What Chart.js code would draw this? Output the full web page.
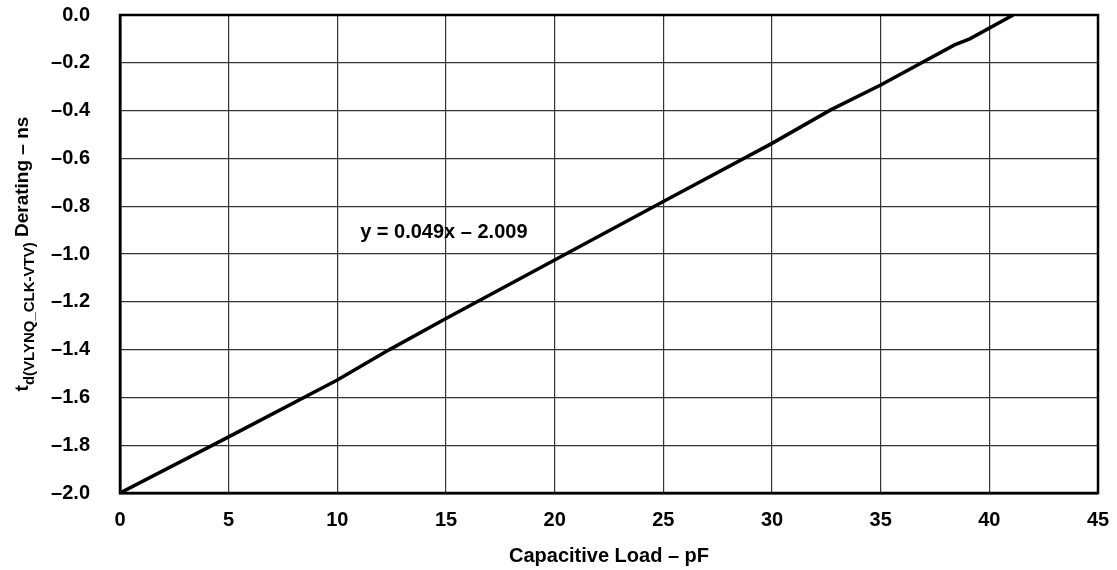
<!DOCTYPE html>
<html>
<head>
<meta charset="utf-8">
<script src="https://cdn.jsdelivr.net/npm/chart.js@4/dist/chart.umd.min.js"></script>
<style>
html,body{margin:0;padding:0;background:#fff;}
#wrap{width:1117px;height:570px;position:relative;}
</style>
</head>
<body>
<div id="wrap"><canvas id="c" width="1117" height="570"></canvas></div>
<script>
const loadPF = [0, 5, 10, 12.4, 15, 20, 25, 30, 32.7, 35, 38.4, 39.1, 41.1];
const deratingNS = [-2.0, -1.765, -1.527, -1.40, -1.27, -1.025, -0.78, -0.537, -0.397, -0.293, -0.125, -0.10, 0.0];
const xTicks = [0, 5, 10, 15, 20, 25, 30, 35, 40, 45];
const yTicks = [0, -0.2, -0.4, -0.6, -0.8, -1.0, -1.2, -1.4, -1.6, -1.8, -2.0];
const equationText = 'y = 0.049x \u2013 2.009';
const equationPos = {x: 11.05, y: -0.908};
const xTitle = 'Capacitive Load \u2013 pF';

const FONT = '"Liberation Sans", Arial, Helvetica, sans-serif';

const deco = {
  id: 'deco',
  afterDraw(chart) {
    const ctx = chart.ctx, a = chart.chartArea;
    const xs = chart.scales.x, ys = chart.scales.y;
    ctx.save();
    ctx.strokeStyle = '#000';
    ctx.lineWidth = 2.5;
    ctx.strokeRect(a.left, a.top, a.right - a.left, a.bottom - a.top);
    ctx.fillStyle = '#000';
    ctx.font = 'bold 20px ' + FONT;
    ctx.textAlign = 'left';
    ctx.textBaseline = 'middle';
    ctx.fillText(equationText, xs.getPixelForValue(equationPos.x), ys.getPixelForValue(equationPos.y));
    ctx.font = 'bold 20px ' + FONT;
    ctx.textAlign = 'center';
    ctx.textBaseline = 'middle';
    ctx.fillText(xTitle, (a.left + a.right) / 2, 556);
    ctx.translate(22, (a.top + a.bottom) / 2);
    ctx.rotate(-Math.PI / 2);
    const p1 = 't', p2 = 'd(VLYNQ_CLK-VTV)', p3 = ' Derating \u2013 ns';
    const fMain = 'bold 19px ' + FONT, fSub = 'bold 15px ' + FONT;
    ctx.font = fMain; const w1 = ctx.measureText(p1).width, w3 = ctx.measureText(p3).width;
    ctx.font = fSub; const w2 = ctx.measureText(p2).width;
    let x0 = -(w1 + w2 + w3) / 2;
    ctx.textAlign = 'left';
    ctx.textBaseline = 'alphabetic';
    ctx.font = fMain; ctx.fillText(p1, x0, 6); x0 += w1;
    ctx.font = fSub; ctx.fillText(p2, x0, 12); x0 += w2;
    ctx.font = fMain; ctx.fillText(p3, x0, 6);
    ctx.restore();
  }
};

function zeroPad(s) { s.paddingTop = 0; s.paddingBottom = 0; s.paddingLeft = 0; s.paddingRight = 0; }

new Chart(document.getElementById('c'), {
  type: 'scatter',
  data: {
    datasets: [{
      data: loadPF.map((v, i) => ({x: v, y: deratingNS[i]})),
      showLine: true,
      borderColor: '#000',
      borderWidth: 3.5,
      pointRadius: 0,
      tension: 0,
      fill: false
    }]
  },
  options: {
    responsive: false,
    animation: false,
    devicePixelRatio: 1,
    layout: {padding: {top: 15, right: 19, left: 0, bottom: 0}},
    plugins: {legend: {display: false}, tooltip: {enabled: false}},
    scales: {
      x: {
        type: 'linear', min: 0, max: 45,
        afterBuildTicks: s => { s.ticks = xTicks.map(v => ({value: v})); },
        afterFit: s => { s.height = 77; zeroPad(s); },
        grid: {color: '#333', lineWidth: 1.2, drawTicks: false},
        border: {color: '#000', width: 2.5},
        ticks: {color: '#000', font: {family: FONT, size: 20, weight: 'bold'}, padding: 15, maxRotation: 0,
                callback: v => String(v)}
      },
      y: {
        type: 'linear', min: -2.0, max: 0,
        afterBuildTicks: s => { s.ticks = yTicks.map(v => ({value: v})); },
        afterFit: s => { s.width = 120; zeroPad(s); },
        grid: {color: '#333', lineWidth: 1.2, drawTicks: false},
        border: {color: '#000', width: 2.5},
        ticks: {color: '#000', font: {family: FONT, size: 20, weight: 'bold'}, padding: 30,
                callback: v => (v < 0 ? '\u2013' : '') + Math.abs(v).toFixed(1)}
      }
    }
  },
  plugins: [deco]
});
</script>
</body>
</html>
